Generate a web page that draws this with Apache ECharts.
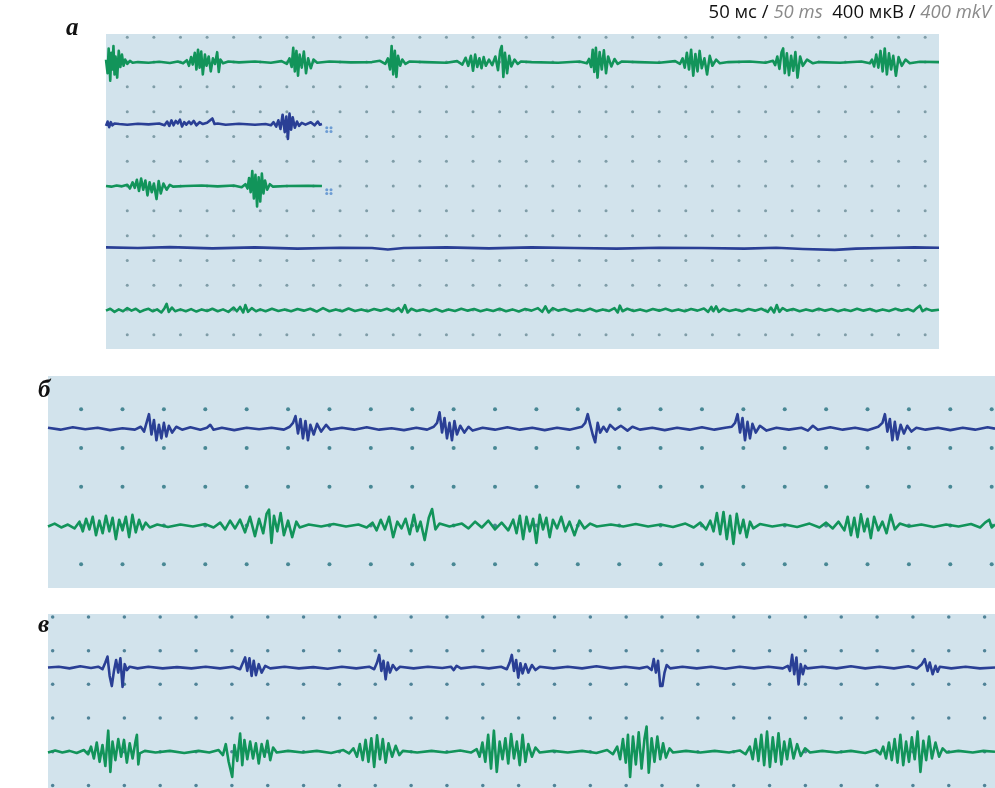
<!DOCTYPE html>
<html>
<head>
<meta charset="utf-8">
<script src="https://cdn.jsdelivr.net/npm/echarts@6/dist/echarts.min.js"></script>
<style>
  html, body { margin: 0; padding: 0; background: #ffffff; }
  #chart { width: 995px; height: 788px; }
</style>
</head>
<body>
<div id="chart"></div>
<script>
// EMG leads: [time ms, deviation µV] samples, drawn on top of a per-lead baseline

// Panel а
const leadA1 = [[0,40],[3,-180],[5,220],[8,-300],[10,150],[12,-120],[14,260],[16,-200],[18,90],[21,-250],[24,180],[27,-80],[30,120],[33,-60],[36,40],[40,-30],[45,20],[50,-10],[60,0],[80,-10],[100,5],[120,-15],[135,10],[145,-20],[152,30],[156,-60],[160,80],[163,-40],[167,150],[170,-120],[173,200],[176,-90],[179,170],[182,-200],[186,120],[189,-60],[193,90],[197,-150],[201,60],[205,-30],[209,160],[212,-160],[215,40],[220,-20],[230,10],[250,-5],[280,10],[310,-10],[330,15],[340,-30],[345,60],[349,-80],[352,230],[355,-150],[358,180],[361,-220],[364,120],[368,-90],[372,170],[376,-180],[380,60],[385,-100],[390,40],[397,-10],[420,10],[460,-5],[500,0],[515,20],[525,-30],[530,60],[534,-120],[537,260],[540,-200],[543,180],[546,-240],[549,100],[553,-60],[557,40],[563,-30],[571,10],[600,0],[640,-10],[660,15],[670,-40],[676,70],[681,-60],[686,100],[690,-140],[694,120],[698,-80],[702,60],[706,-100],[710,80],[714,-60],[720,40],[726,-50],[732,90],[737,-130],[741,180],[744,260],[747,-240],[750,150],[754,-180],[758,100],[762,-70],[768,40],[774,-30],[780,10],[800,0],[850,-10],[890,10],[904,-20],[908,50],[912,-80],[915,200],[918,-160],[921,230],[924,-250],[928,160],[932,-120],[936,190],[940,-180],[944,90],[950,-70],[956,50],[962,-30],[970,10],[1000,0],[1040,-10],[1070,15],[1079,-30],[1084,60],[1088,-90],[1092,150],[1096,-120],[1100,200],[1104,-220],[1108,130],[1112,-150],[1116,180],[1120,-100],[1125,60],[1130,-200],[1135,100],[1140,-60],[1147,40],[1154,-20],[1170,0],[1210,10],[1240,-10],[1254,20],[1258,-50],[1262,90],[1266,-110],[1270,160],[1273,220],[1276,-180],[1280,140],[1284,-210],[1288,100],[1292,-140],[1296,160],[1300,-250],[1305,90],[1310,-60],[1318,40],[1329,-20],[1340,0],[1380,-10],[1420,10],[1436,-20],[1440,40],[1444,-70],[1448,120],[1452,-90],[1456,180],[1460,-150],[1464,220],[1468,-200],[1472,140],[1476,-120],[1480,100],[1485,-220],[1490,80],[1496,-60],[1503,40],[1511,-20],[1530,5],[1566,0]];

const leadA2 = [[0,-30],[3,40],[6,-50],[9,30],[12,-20],[16,10],[25,0],[40,-10],[60,5],[80,-5],[100,10],[110,-20],[115,40],[119,-30],[123,60],[127,-20],[131,50],[135,10],[139,70],[143,-40],[147,30],[151,-10],[156,40],[160,0],[165,50],[170,-20],[176,30],[182,0],[190,20],[200,90],[204,0],[210,10],[225,-10],[250,5],[280,-10],[300,0],[310,-20],[315,30],[320,-40],[324,60],[328,-80],[332,150],[336,-130],[339,120],[342,-240],[345,170],[348,-90],[351,110],[355,-60],[359,40],[363,-30],[368,20],[375,-10],[385,30],[392,-20],[398,40],[402,-10],[406,0]];

const leadA3 = [[0,0],[10,-10],[20,10],[30,-5],[40,20],[45,-40],[50,60],[54,-30],[58,100],[62,-80],[66,120],[70,-60],[74,90],[78,-150],[82,60],[86,-100],[90,40],[95,-210],[99,80],[103,-120],[108,40],[114,-60],[120,20],[126,-10],[150,0],[180,10],[210,-5],[240,10],[255,-20],[262,30],[266,-40],[269,130],[272,-100],[275,240],[278,-200],[281,180],[284,-330],[287,140],[290,-250],[293,200],[296,-120],[299,90],[303,-60],[308,30],[314,-10],[340,0],[380,5],[406,0]];

const leadA4 = [[0,10],[60,0],[120,15],[200,-5],[280,10],[360,-10],[440,5],[500,0],[530,-25],[560,0],[640,10],[720,-5],[800,10],[880,0],[960,-10],[1040,5],[1120,0],[1200,-10],[1260,5],[1310,-15],[1370,-30],[1410,-10],[1460,0],[1520,10],[1566,5]];

const leadA5 = [[0,-10],[8,20],[16,-30],[24,10],[32,-20],[40,30],[48,-10],[56,20],[64,-30],[72,0],[80,20],[88,-20],[96,10],[104,-40],[110,30],[114,100],[118,-30],[124,40],[130,-20],[140,10],[150,-20],[160,15],[170,-25],[180,10],[190,-15],[200,20],[210,-20],[220,10],[230,-30],[240,40],[246,-20],[252,50],[258,-40],[262,80],[267,-30],[274,30],[282,-20],[290,10],[300,-20],[312,20],[324,-15],[336,10],[348,-20],[360,15],[372,-10],[384,20],[396,-25],[408,30],[420,-20],[432,10],[444,-20],[456,25],[468,-15],[480,10],[492,-20],[504,15],[516,-10],[528,20],[540,-20],[550,30],[556,-30],[562,80],[567,-40],[574,20],[584,-15],[596,10],[608,-20],[620,15],[632,-25],[644,10],[656,-15],[668,20],[680,-10],[692,15],[704,-20],[716,10],[728,-15],[740,20],[752,-20],[764,10],[776,-25],[788,15],[800,-10],[812,30],[820,-30],[826,60],[832,-40],[840,30],[850,-10],[862,15],[874,-20],[886,10],[898,-15],[910,20],[922,-20],[934,10],[946,-15],[956,30],[962,-40],[966,70],[971,-20],[980,20],[992,-15],[1004,10],[1016,-20],[1028,15],[1040,-10],[1052,20],[1064,-15],[1076,10],[1088,-20],[1100,15],[1112,-10],[1124,25],[1132,-30],[1138,50],[1142,-20],[1147,60],[1152,-30],[1160,20],[1172,-15],[1184,10],[1196,-20],[1208,15],[1220,-10],[1232,20],[1244,-30],[1250,40],[1256,-40],[1261,80],[1266,-30],[1272,30],[1280,-10],[1292,15],[1304,-20],[1316,10],[1328,-15],[1340,20],[1352,-10],[1364,15],[1376,-20],[1388,10],[1400,-15],[1412,20],[1424,-10],[1436,15],[1448,-20],[1460,10],[1472,-15],[1484,20],[1496,-10],[1508,15],[1518,-20],[1524,30],[1530,70],[1535,-20],[1542,20],[1552,-10],[1566,5]];

// Panel б
const leadB1 = [[0,10],[15,-10],[30,15],[45,-5],[60,10],[75,-15],[90,5],[105,-10],[112,20],[116,-30],[119,60],[122,150],[125,-60],[128,90],[131,-120],[134,40],[137,-100],[140,60],[143,-80],[146,30],[150,-40],[155,20],[162,-10],[172,15],[184,-10],[192,10],[196,40],[200,-10],[210,10],[225,-15],[240,10],[255,-5],[270,10],[285,-10],[292,20],[296,60],[299,130],[302,-50],[305,100],[308,-100],[311,80],[314,-120],[317,40],[321,-60],[325,50],[330,-30],[336,40],[341,-10],[355,10],[370,-10],[385,15],[400,-10],[415,5],[430,-15],[445,10],[458,-10],[466,20],[470,60],[473,170],[476,-40],[479,110],[482,-100],[485,60],[488,-120],[491,80],[494,-60],[498,30],[503,-40],[508,20],[513,-20],[525,10],[540,-10],[555,15],[570,-10],[585,10],[600,-15],[615,10],[630,-10],[645,20],[649,60],[652,150],[655,40],[658,-60],[661,-140],[664,60],[667,-40],[671,20],[675,-30],[679,40],[685,-10],[692,30],[700,-20],[706,20],[715,-10],[730,10],[745,-15],[760,10],[775,-10],[790,15],[805,-10],[818,10],[826,20],[830,60],[833,150],[836,-40],[839,110],[842,-120],[845,70],[848,-100],[851,50],[855,-40],[860,30],[868,-20],[880,10],[895,-10],[910,10],[918,-20],[924,30],[930,-10],[945,15],[960,-10],[975,10],[990,-15],[1003,20],[1008,60],[1011,150],[1014,-30],[1017,100],[1020,-120],[1023,70],[1026,-110],[1030,40],[1034,-50],[1038,30],[1043,-30],[1049,10],[1060,-10],[1075,10],[1090,-15],[1105,10],[1120,-10],[1135,15],[1144,0]];

const leadB2 = [[0,-10],[8,20],[16,-20],[24,10],[32,-30],[38,40],[42,-60],[46,70],[50,-40],[54,90],[58,-100],[62,50],[66,-80],[70,100],[74,-60],[78,80],[82,-140],[86,60],[90,-50],[94,90],[98,-120],[102,110],[106,-70],[110,60],[114,-40],[118,30],[123,-20],[132,10],[145,-15],[160,10],[175,-10],[190,15],[200,-20],[208,30],[214,-40],[220,50],[226,-30],[232,60],[238,-70],[244,90],[250,-110],[255,70],[260,-80],[264,120],[267,165],[270,-180],[273,100],[277,-60],[281,130],[285,-100],[290,50],[295,-120],[300,40],[304,-20],[315,10],[330,-10],[345,15],[360,-10],[375,10],[385,-20],[392,30],[397,-50],[402,60],[407,-40],[412,90],[417,-120],[422,40],[427,-30],[432,70],[437,-90],[442,110],[446,-60],[450,40],[455,-150],[460,80],[464,170],[468,-40],[473,20],[485,-10],[500,20],[508,-30],[516,40],[524,-20],[532,50],[540,-40],[548,30],[556,-50],[562,60],[566,-80],[570,100],[574,-140],[578,90],[582,-60],[586,70],[590,-180],[594,110],[598,-40],[602,80],[606,-120],[610,60],[615,-30],[620,90],[625,-60],[630,40],[636,-100],[642,50],[648,-30],[655,20],[663,-10],[680,10],[695,-10],[710,15],[725,-10],[740,10],[755,-15],[770,20],[780,-20],[788,30],[795,-40],[800,50],[804,-60],[808,130],[812,-90],[816,140],[820,-140],[824,100],[828,-190],[832,120],[836,-80],[840,60],[844,-120],[848,40],[852,-30],[860,15],[875,-10],[890,10],[905,-15],[920,20],[932,-20],[940,30],[948,-30],[955,40],[962,-50],[966,90],[970,-100],[974,80],[978,-120],[982,115],[986,-60],[990,70],[994,-130],[998,90],[1003,-50],[1008,40],[1013,-80],[1018,110],[1023,-40],[1029,20],[1040,-10],[1055,10],[1070,-15],[1085,10],[1100,-10],[1115,15],[1126,-20],[1132,30],[1137,60],[1140,-20],[1144,10]];

// Panel в
const leadC1 = [[0,0],[15,10],[30,-10],[45,15],[60,-5],[70,10],[76,-20],[80,60],[83,130],[86,-100],[89,-220],[92,-40],[95,90],[98,-60],[101,110],[104,-230],[107,40],[110,-30],[114,10],[125,-10],[140,10],[160,-10],[180,5],[200,-10],[220,10],[240,-10],[258,10],[268,-20],[272,60],[275,120],[278,-40],[281,110],[284,-100],[287,80],[290,-90],[294,40],[298,-60],[303,20],[310,-10],[330,10],[350,-10],[370,5],[390,-15],[410,10],[430,-10],[448,10],[455,-20],[459,60],[462,150],[465,-40],[468,80],[471,-140],[474,60],[477,-60],[481,30],[486,-30],[491,10],[510,-10],[530,10],[550,-5],[562,10],[566,-30],[570,20],[576,-10],[595,10],[615,-10],[632,10],[640,-20],[644,60],[647,150],[650,-40],[653,90],[656,-120],[659,50],[662,-70],[666,40],[670,-60],[675,30],[680,-30],[686,10],[705,-10],[725,10],[745,-10],[765,15],[785,-10],[805,10],[825,-10],[836,10],[842,-30],[845,100],[848,-60],[851,80],[854,-220],[857,-220],[860,-60],[863,30],[868,-10],[885,10],[905,-10],[925,10],[945,-15],[965,10],[985,-10],[1005,10],[1025,-10],[1032,20],[1035,-40],[1038,150],[1041,-80],[1044,120],[1047,-200],[1050,40],[1053,-80],[1056,20],[1059,-10],[1080,10],[1100,-10],[1120,15],[1140,-10],[1160,10],[1180,-10],[1200,15],[1212,-10],[1219,40],[1223,100],[1227,-40],[1230,60],[1234,-80],[1238,20],[1241,-50],[1244,10],[1260,-10],[1280,10],[1300,-10],[1321,0]];

const leadC2 = [[0,-10],[10,15],[20,-10],[30,10],[40,-15],[50,20],[56,-30],[60,60],[64,-80],[68,110],[72,-120],[76,80],[80,-170],[84,250],[87,-240],[90,120],[94,-100],[98,150],[102,-60],[106,140],[110,-130],[114,100],[118,-80],[122,120],[124,200],[126,-150],[128,-20],[135,10],[150,-10],[170,10],[190,-15],[210,10],[225,-10],[238,20],[244,-40],[248,90],[252,-120],[257,-300],[260,80],[264,-110],[268,215],[271,-160],[274,140],[278,-90],[282,120],[286,-80],[290,100],[294,-140],[298,90],[302,-60],[306,130],[310,-100],[314,50],[319,-10],[335,10],[355,-10],[375,10],[395,-15],[412,20],[420,-20],[426,40],[431,-60],[435,90],[439,-100],[443,140],[447,-120],[451,160],[455,-180],[459,195],[463,-90],[467,150],[471,-130],[475,100],[480,-60],[485,70],[490,-40],[495,10],[515,-10],[535,10],[555,-10],[575,15],[590,-10],[598,30],[602,-60],[606,110],[610,-120],[614,200],[618,-200],[622,250],[626,-240],[630,120],[634,-90],[638,160],[642,-140],[646,210],[650,-80],[654,120],[658,-160],[662,200],[666,-120],[670,90],[675,-60],[680,50],[686,-10],[705,10],[725,-10],[745,10],[765,-15],[780,20],[788,-30],[794,60],[798,-90],[802,150],[806,-130],[809,200],[812,-300],[816,180],[820,-150],[824,230],[828,-200],[832,150],[835,300],[838,-250],[842,160],[846,-120],[850,180],[854,-90],[858,100],[862,-70],[867,40],[872,-10],[890,10],[910,-10],[930,10],[950,-10],[965,15],[973,-30],[979,60],[983,-90],[987,150],[991,-110],[995,200],[999,-160],[1003,240],[1007,-180],[1011,170],[1015,-120],[1019,220],[1023,-150],[1027,120],[1031,-90],[1035,150],[1040,-80],[1045,90],[1050,-50],[1056,40],[1063,-10],[1080,10],[1100,-10],[1120,10],[1140,-15],[1155,20],[1161,-30],[1165,60],[1169,-80],[1173,110],[1177,-100],[1181,150],[1185,-130],[1189,200],[1193,-160],[1197,120],[1201,-120],[1205,170],[1209,-90],[1213,240],[1217,-240],[1221,130],[1225,-100],[1229,180],[1233,-80],[1238,110],[1243,-60],[1248,40],[1254,-10],[1270,10],[1290,-10],[1305,10],[1321,0]];

// baselines (µV) of the leads in each panel, top to bottom
const baselinesA = [4400, 3400, 2400, 1400, 400];
const baselinesB = [1400, 400];
const baselinesC = [1400, 400];

// calibration: one grid division
const divisionMs = 50;
const divisionUv = 400;

// sweep-end cursor ticks after the stopped leads: [ms after end, µV from baseline]
const cursorTicks = [[9, -60], [17, -60], [9, -120], [17, -120]];

const panelLabels = ['а', 'б', 'в'];
const scaleText = ['50 мс / ', '50 ms', '400 мкВ / ', '400 mkV'];

// ---- layout and styling ----
const GREEN = '#12945a';
const BLUE = '#2a3f95';
const BG = '#d2e3ec';

const panels = [
  { box: { left: 106, top: 34, width: 833, height: 315 }, x: [0, 1566], y: [-229, 4853],
    dotStart: 40, rows: 12, dot: { color: '#6a8b96', size: 3 },
    leads: [[leadA1, GREEN], [leadA2, BLUE], [leadA3, GREEN], [leadA4, BLUE], [leadA5, GREEN]], base: baselinesA },
  { box: { left: 48, top: 376, width: 947, height: 212 }, x: [0, 1144], y: [-245, 1944],
    dotStart: 40, rows: 4, dot: { color: '#25707e', size: 4 },
    leads: [[leadB1, BLUE], [leadB2, GREEN]], base: baselinesB },
  { box: { left: 48, top: 614, width: 947, height: 174 }, x: [0, 1321], y: [-31, 2036],
    dotStart: 6.5, rows: 5, dot: { color: '#2e6a82', size: 3.5 },
    leads: [[leadC1, BLUE], [leadC2, GREEN]], base: baselinesC }
];

const grid = [], xAxis = [], yAxis = [], series = [];

panels.forEach((p, gi) => {
  grid.push(Object.assign({ show: true, backgroundColor: BG, borderWidth: 0, containLabel: false }, p.box));
  xAxis.push({ type: 'value', gridIndex: gi, min: p.x[0], max: p.x[1], show: false });
  yAxis.push({ type: 'value', gridIndex: gi, min: p.y[0], max: p.y[1], show: false });

  // calibration dot lattice
  const dots = [];
  for (let t = p.dotStart; t <= p.x[1]; t += divisionMs) {
    for (let r = 0; r <= p.rows; r++) dots.push([t, r * divisionUv]);
  }
  series.push({
    type: 'scatter', xAxisIndex: gi, yAxisIndex: gi, data: dots, symbol: 'circle',
    symbolSize: p.dot.size, itemStyle: { color: p.dot.color }, silent: true, z: 1
  });

  p.leads.forEach(([pts, color], li) => {
    const base = p.base[li];
    series.push({
      type: 'line', xAxisIndex: gi, yAxisIndex: gi, showSymbol: false, silent: true,
      data: pts.map(([t, v]) => [t, base + v]),
      lineStyle: { color: color, width: 2.6, join: 'round' }, z: 3
    });
  });
});

// cursor ticks after the two short leads of panel а
[[leadA2, baselinesA[1]], [leadA3, baselinesA[2]]].forEach(([pts, base]) => {
  const end = pts[pts.length - 1][0];
  series.push({
    type: 'scatter', xAxisIndex: 0, yAxisIndex: 0, silent: true, symbolSize: 3,
    itemStyle: { color: '#5a8fcf', opacity: 0.85 },
    data: cursorTicks.map(([dt, dv]) => [end + dt, base + dv]), z: 2
  });
});

const labelStyle = { fontFamily: 'Liberation Serif', fontStyle: 'italic', fontWeight: 'bold', fontSize: 25, fill: '#111' };
const labelPos = [[66, 16], [38, 378], [38, 613]];

const graphic = panelLabels.map((s, i) => ({
  type: 'text', left: labelPos[i][0], top: labelPos[i][1],
  style: Object.assign({ text: s }, labelStyle)
}));

graphic.push({
  type: 'text', right: 4, top: 3,
  style: {
    text: '{k|' + scaleText[0] + '}{e|' + scaleText[1] + '}{k|  ' + scaleText[2] + '}{e|' + scaleText[3] + '}',
    rich: {
      k: { fontFamily: 'Open Sans', fontSize: 18.5, fill: '#111' },
      e: { fontFamily: 'Open Sans', fontSize: 18.5, fontStyle: 'italic', fill: '#8a8a8a' }
    }
  }
});

const chart = echarts.init(document.getElementById('chart'), null, { renderer: 'canvas' });
chart.setOption({
  animation: false,
  backgroundColor: '#ffffff',
  grid, xAxis, yAxis, series, graphic
});
</script>
</body>
</html>
